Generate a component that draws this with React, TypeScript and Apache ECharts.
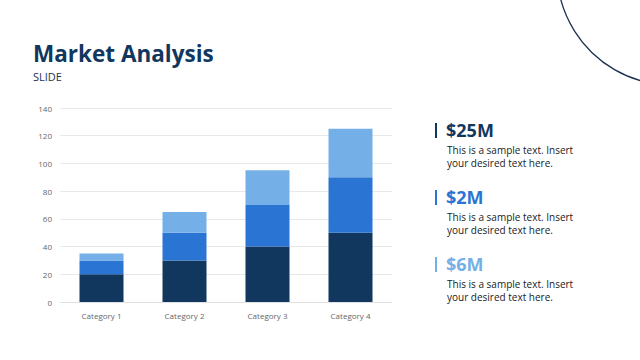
import React, { useEffect, useRef } from "react";
import * as echarts from "echarts";

const categories = ["Category 1", "Category 2", "Category 3", "Category 4"];
const seriesA = [20, 30, 40, 50];
const seriesB = [10, 20, 30, 40];
const seriesC = [5, 15, 25, 35];
const colors = ["#12375e", "#2a75d3", "#74afe7"];
const kpiValues = ["$25M", "$2M", "$6M"];
const kpiText = "This is a sample text. Insert\nyour desired text here.";

export default function App() {
  const ref = useRef<HTMLDivElement>(null);
  useEffect(() => {
    const chart = echarts.init(ref.current!, null, { renderer: "svg" });
    const font = "'Open Sans', 'Noto Sans', sans-serif";
    const kpiTops = [124, 191, 258];
    const graphics: any[] = [
      {
        type: "text",
        left: 33,
        top: 41,
        style: { text: "Market Analysis", font: `bold 22.5px ${font}`, fill: "#12375e", lineHeight: 24 },
      },
      {
        type: "text",
        left: 33,
        top: 71,
        style: { text: "SLIDE", font: `11px ${font}`, fill: "#1f3350", lineHeight: 11 },
      },
      {
        type: "circle",
        shape: { cx: 672, cy: -30, r: 115 },
        style: { fill: "none", stroke: "#1b3150", lineWidth: 1.3 },
      },
    ];
    kpiValues.forEach((v, i) => {
      const t = kpiTops[i];
      graphics.push({
        type: "rect",
        shape: { x: 435, y: t - 1, width: 2, height: 15 },
        style: { fill: colors[i] },
      });
      graphics.push({
        type: "text",
        left: 446,
        top: t - 3,
        style: { text: v, font: `bold 18px ${font}`, fill: colors[i] },
      });
      graphics.push({
        type: "text",
        left: 447,
        top: t + 20,
        style: { text: kpiText, font: `10px ${font}`, fill: "#222222", lineHeight: 12.5 },
      });
    });
    const mk = (data: number[], i: number) => ({
      type: "bar",
      stack: "total",
      data,
      barWidth: 44,
      itemStyle: { color: colors[i] },
    });
    chart.setOption({
      animation: false,
      grid: { left: 60, right: 248, top: 108, bottom: 58 },
      xAxis: {
        type: "category",
        data: categories,
        axisLine: { lineStyle: { color: "#e0e0e0" } },
        axisTick: { show: false },
        axisLabel: { color: "#666", fontSize: 8, margin: 9, fontFamily: font },
      },
      yAxis: {
        type: "value",
        min: 0,
        max: 140,
        interval: 20,
        axisLine: { show: false },
        axisTick: { show: false },
        splitLine: { lineStyle: { color: "#e8e8e8" } },
        axisLabel: { color: "#666", fontSize: 8, margin: 8, fontFamily: font },
      },
      series: [mk(seriesA, 0), mk(seriesB, 1), mk(seriesC, 2)],
      graphic: graphics,
    });
    return () => chart.dispose();
  }, []);
  return (
    <div
      ref={ref}
      style={{ position: "absolute", left: 0, top: 0, width: 640, height: 360, background: "#fff" }}
    />
  );
}
